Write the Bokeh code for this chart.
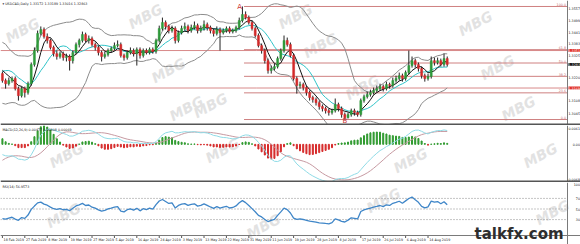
import numpy as np
import pandas as pd
from bokeh.plotting import figure
from bokeh.models import Range1d, Label, Span
from bokeh.layouts import column
from bokeh.embed import file_html
from bokeh.resources import INLINE

# ---------------- data (USDCAD daily) ----------------
opens = [1.3239,1.3205,1.3190,1.3205,1.3215,1.3166,1.3132,1.3166,1.3147,1.3190,
         1.3283,1.3351,1.3434,1.3453,1.3419,1.3400,1.3366,1.3336,1.3322,1.3336,
         1.3317,1.3322,1.3302,1.3341,1.3380,1.3400,1.3429,1.3400,1.3409,1.3380,
         1.3366,1.3341,1.3322,1.3332,1.3351,1.3361,1.3375,1.3380,1.3327,1.3317,
         1.3341,1.3351,1.3336,1.3356,1.3327,1.3351,1.3341,1.3356,1.3346,1.3400,
         1.3458,1.3487,1.3468,1.3448,1.3458,1.3400,1.3438,1.3458,1.3468,1.3448,
         1.3463,1.3472,1.3448,1.3458,1.3477,1.3463,1.3448,1.3434,1.3453,1.3438,
         1.3448,1.3458,1.3443,1.3448,1.3463,1.3497,1.3526,1.3511,1.3487,1.3458,
         1.3424,1.3375,1.3351,1.3302,1.3254,1.3264,1.3273,1.3312,1.3351,1.3400,
         1.3380,1.3327,1.3215,1.3181,1.3186,1.3171,1.3147,1.3123,1.3113,1.3098,
         1.3079,1.3069,1.3059,1.3050,1.3059,1.3089,1.3069,1.3040,1.3025,1.3040,
         1.3059,1.3050,1.3040,1.3108,1.3127,1.3137,1.3147,1.3157,1.3166,1.3176,
         1.3166,1.3186,1.3181,1.3205,1.3215,1.3229,1.3215,1.3244,1.3278,1.3302,
         1.3283,1.3264,1.3229,1.3215,1.3225,1.3302,1.3293,1.3302,1.3283,1.3312]
closes = [1.3205,1.3190,1.3205,1.3215,1.3166,1.3132,1.3166,1.3147,1.3190,1.3283,
          1.3351,1.3434,1.3453,1.3419,1.3400,1.3366,1.3336,1.3322,1.3336,1.3317,
          1.3322,1.3302,1.3341,1.3380,1.3400,1.3429,1.3400,1.3409,1.3380,1.3366,
          1.3341,1.3322,1.3332,1.3351,1.3361,1.3375,1.3380,1.3327,1.3317,1.3341,
          1.3351,1.3336,1.3356,1.3327,1.3351,1.3341,1.3356,1.3346,1.3400,1.3458,
          1.3487,1.3468,1.3448,1.3458,1.3400,1.3438,1.3458,1.3468,1.3448,1.3463,
          1.3472,1.3448,1.3458,1.3477,1.3463,1.3448,1.3434,1.3453,1.3438,1.3448,
          1.3458,1.3443,1.3448,1.3463,1.3497,1.3526,1.3511,1.3487,1.3458,1.3424,
          1.3375,1.3351,1.3302,1.3254,1.3264,1.3273,1.3312,1.3351,1.3400,1.3380,
          1.3327,1.3215,1.3181,1.3186,1.3171,1.3147,1.3123,1.3113,1.3098,1.3079,
          1.3069,1.3059,1.3050,1.3059,1.3089,1.3069,1.3040,1.3025,1.3040,1.3059,
          1.3050,1.3040,1.3108,1.3127,1.3137,1.3147,1.3157,1.3166,1.3176,1.3166,
          1.3186,1.3181,1.3205,1.3215,1.3229,1.3215,1.3244,1.3278,1.3302,1.3283,
          1.3264,1.3229,1.3215,1.3225,1.3302,1.3293,1.3302,1.3283,1.3312,1.3283]
highs = [1.3249,1.3215,1.3220,1.3225,1.3225,1.3176,1.3176,1.3176,1.3200,1.3293,
         1.3366,1.3448,1.3468,1.3463,1.3434,1.3409,1.3375,1.3351,1.3346,1.3346,
         1.3336,1.3332,1.3351,1.3390,1.3409,1.3443,1.3438,1.3424,1.3419,1.3390,
         1.3375,1.3351,1.3346,1.3361,1.3370,1.3390,1.3400,1.3390,1.3336,1.3351,
         1.3366,1.3361,1.3366,1.3366,1.3361,1.3361,1.3366,1.3366,1.3409,1.3472,
         1.3511,1.3497,1.3477,1.3472,1.3468,1.3448,1.3472,1.3487,1.3477,1.3477,
         1.3492,1.3482,1.3472,1.3497,1.3487,1.3472,1.3458,1.3468,1.3463,1.3458,
         1.3468,1.3468,1.3458,1.3472,1.3511,1.3565,1.3541,1.3521,1.3497,1.3468,
         1.3434,1.3385,1.3361,1.3312,1.3278,1.3288,1.3322,1.3361,1.3424,1.3414,
         1.3390,1.3336,1.3225,1.3200,1.3195,1.3181,1.3157,1.3132,1.3123,1.3108,
         1.3089,1.3079,1.3069,1.3069,1.3118,1.3098,1.3079,1.3050,1.3050,1.3069,
         1.3069,1.3059,1.3118,1.3137,1.3152,1.3161,1.3171,1.3181,1.3190,1.3186,
         1.3200,1.3195,1.3220,1.3229,1.3244,1.3239,1.3254,1.3351,1.3322,1.3312,
         1.3293,1.3273,1.3239,1.3239,1.3322,1.3317,1.3317,1.3312,1.3336,1.3322]
lows = [1.3195,1.3166,1.3181,1.3195,1.3157,1.3108,1.3123,1.3123,1.3137,1.3181,
        1.3273,1.3341,1.3424,1.3409,1.3385,1.3356,1.3322,1.3307,1.3312,1.3302,
        1.3298,1.3254,1.3288,1.3332,1.3366,1.3390,1.3390,1.3385,1.3370,1.3351,
        1.3327,1.3298,1.3312,1.3322,1.3341,1.3351,1.3366,1.3317,1.3302,1.3307,
        1.3332,1.3322,1.3278,1.3312,1.3317,1.3332,1.3332,1.3336,1.3336,1.3390,
        1.3448,1.3453,1.3434,1.3438,1.3385,1.3390,1.3429,1.3448,1.3434,1.3438,
        1.3453,1.3434,1.3438,1.3448,1.3448,1.3434,1.3419,1.3424,1.3351,1.3429,
        1.3438,1.3434,1.3434,1.3438,1.3453,1.3487,1.3502,1.3477,1.3448,1.3414,
        1.3366,1.3336,1.3288,1.3239,1.3239,1.3254,1.3264,1.3302,1.3341,1.3370,
        1.3317,1.3205,1.3142,1.3166,1.3157,1.3132,1.3108,1.3098,1.3084,1.3064,
        1.3055,1.3045,1.3035,1.3040,1.3050,1.3055,1.3025,1.3016,1.3021,1.3030,
        1.3035,1.3030,1.3030,1.3098,1.3118,1.3127,1.3137,1.3147,1.3157,1.3152,
        1.3157,1.3166,1.3171,1.3195,1.3205,1.3200,1.3205,1.3234,1.3268,1.3268,
        1.3249,1.3215,1.3200,1.3205,1.3215,1.3278,1.3283,1.3273,1.3273,1.3273]
# closes before the visible window (estimated), only used to warm up indicators
prior_closes = [1.3485,1.3400,1.3390,1.3330,1.3260,1.3240,1.3280,1.3270,1.3250,1.3300,
                1.3320,1.3280,1.3320,1.3370,1.3330,1.3320,1.3280,1.3210,1.3140,1.3130,
                1.3120,1.3130,1.3160,1.3200,1.3280,1.3300,1.3290,1.3265,1.3270,1.3290,1.3245]

date_labels = ["18 Feb 2019", "27 Feb 2019", "8 Mar 2019", "19 Mar 2019", "27 Mar 2019",
               "5 Apr 2019", "16 Apr 2019", "24 Apr 2019", "3 May 2019", "13 May 2019",
               "22 May 2019", "31 May 2019", "11 Jun 2019", "19 Jun 2019", "28 Jun 2019",
               "8 Jul 2019", "17 Jul 2019", "26 Jul 2019", "6 Aug 2019", "14 Aug 2019"]
date_label_step = 7

price_ticks = [1.3557, 1.3499, 1.3441, 1.3383, 1.3325, 1.3220, 1.3108, 1.3045]
fib_levels = [0.0, 23.6, 38.2, 50.0, 61.8, 100.0]
hline_levels = [1.3351, 1.3169]
macd_tick_labels = ["0.0061", "0.00", "-0.0068"]
rsi_ticks = [100, 70, 50, 30]
rsi_levels = [70, 50, 30]

title_main = "\u25be USDCAD,Daily  1.33172 1.33189 1.33016 1.32863"
title_macd = "MACD(12,26,9) 0.00477 0.00408 0.00069"
title_rsi = "RSI(14) 56.9573"

# watermark positions (pixels in the picture)
wm_x = [22, 145, 168, 186, 295, 320, 362, 210, 475, 497, 518, 66, 222, 410, 540, 63, 263, 383, 552]
wm_y = [30, 16, 70, 108, 16, 45, 87, 105, 23, 67, 108, 155, 150, 160, 155, 215, 226, 200, 212]

# ---------------- indicators ----------------
n = len(closes)
x = np.arange(n)
allc = pd.Series(prior_closes + closes)
ma_fast = allc.rolling(5).mean().iloc[-n:].values
ma_slow = allc.rolling(10).mean().iloc[-n:].values
bb_mid = allc.rolling(20).mean()
bb_sd = allc.rolling(20).std(ddof=0)
bb_up = (bb_mid + 2 * bb_sd).iloc[-n:].values
bb_dn = (bb_mid - 2 * bb_sd).iloc[-n:].values
ema12 = allc.ewm(span=12, adjust=False).mean()
ema26 = allc.ewm(span=26, adjust=False).mean()
macd_s = ema12 - ema26
sig_s = macd_s.rolling(9).mean()
macd = macd_s.iloc[-n:].values
sig = sig_s.iloc[-n:].values
hist = macd - sig
d = allc.diff()
gain = d.clip(lower=0).ewm(alpha=1 / 14, adjust=False).mean()
loss = (-d.clip(upper=0)).ewm(alpha=1 / 14, adjust=False).mean()
rsi = (100 - 100 / (1 + gain / loss)).iloc[-n:].values

# ---------------- layout constants ----------------
PX_PER_BAR = 3.2
X0 = -0.6
XA = X0 + 567 / PX_PER_BAR          # right edge of the chart area (price axis line)
XW = X0 + 580 / PX_PER_BAR          # right edge of the picture
P_LO, P_HI = 1.2987, 1.3594
M_LO = float(min(macd.min(), sig.min(), hist.min())) * 1.02
M_HI = float(max(macd.max(), sig.max(), hist.max())) * 1.02
R_PX = 100 / 53                      # RSI units per pixel
R_LO = -9 * R_PX                     # room below the RSI window for the dates
FONT = "DejaVu Sans"
SMALL = "3.3px"
GREEN, RED = "#2e9a3a", "#d42a2a"

def base_fig(h, yr):
    p = figure(width=580, height=h, x_range=Range1d(X0, XW), y_range=yr,
               output_backend="svg", toolbar_location=None,
               x_axis_location=None, y_axis_location=None,
               min_border_left=0, min_border_right=0, min_border_top=0,
               min_border_bottom=0)
    p.grid.visible = False
    p.outline_line_color = None
    p.background_fill_color = "white"
    p.border_fill_color = "white"
    p.add_layout(Span(location=XA, dimension="height", line_color="#7a7a7a", line_width=1))
    return p

def px_to_x(px):
    return X0 + px / PX_PER_BAR

def small_label(p, xv, yv, text, color="#222", align="left", base="middle", size=SMALL, **kw):
    p.add_layout(Label(x=xv, y=yv, text=text, text_color=color, text_align=align,
                       text_baseline=base, text_font=FONT, text_font_size=size, **kw))

x_lab = px_to_x(579.5)

# ---------------- main price panel ----------------
p1 = base_fig(125, Range1d(P_LO, P_HI))
ppx1 = (P_HI - P_LO) / 125
panels = [(p1, 0, 125, P_LO, P_HI)]

for lvl in hline_levels:
    p1.segment(x0=X0, y0=lvl, x1=XA, y1=lvl, line_color="#d88a8a", line_width=1)

o = np.array(opens); c = np.array(closes); hi = np.array(highs); lo = np.array(lows)
ia = int(np.argmax(hi))
ib = ia + int(np.argmin(lo[ia:]))
H, L = hi[ia], lo[ib]
for f in fib_levels:
    lv = L + (H - L) * f / 100
    p1.segment(x0=ia + 0.5, y0=lv, x1=XA, y1=lv, line_color="#cf8080", line_width=1)
    small_label(p1, px_to_x(565.5), lv + 0.5 * ppx1, f"{f:.1f}", color="#c06a6a",
                align="right", base="bottom")

p1.line(x, bb_up, line_color="#8c8c8c", line_width=1)
p1.line(x, bb_dn, line_color="#8c8c8c", line_width=1)
p1.line(x, ma_slow, line_color="#2fc4c8", line_width=1)
p1.line(x, ma_fast, line_color="#111111", line_width=1)

p1.segment(x0=x, y0=lo, x1=x, y1=hi, line_color="#222222", line_width=1)
up = c >= o
dn = ~up
p1.vbar(x=x[up], width=0.62, top=c[up], bottom=o[up], fill_color=GREEN, line_color=GREEN, line_width=0.5)
p1.vbar(x=x[dn], width=0.62, top=o[dn], bottom=c[dn], fill_color=RED, line_color=RED, line_width=0.5)

small_label(p1, ia - 0.9, H - 0.0002, "A", color="#cc3333", align="center", size="7px")
small_label(p1, ib, L - 0.0009, "B", color="#cc3333", align="center", size="7px")

small_label(p1, px_to_x(2), P_HI - 3 * ppx1, title_main)

for t in price_ticks:
    small_label(p1, x_lab, t, f"{t:.4f}", align="right")
for lvl in hline_levels:
    small_label(p1, x_lab, lvl, f"{lvl:.4f}", color="white", align="right",
                background_fill_color="#e0302a")
small_label(p1, x_lab, closes[-1], f"{closes[-1]:.4f}", color="white", align="right",
            background_fill_color="#111111")
p1.add_layout(Span(location=P_LO + ppx1, dimension="width", line_color="#555555", line_width=2))

# ---------------- MACD panel ----------------
p2 = base_fig(57, Range1d(M_LO, M_HI))
ppx2 = (M_HI - M_LO) / 57
panels.append((p2, 125, 182, M_LO, M_HI))
hp = hist >= 0
p2.vbar(x=x[hp], width=0.32, top=hist[hp], bottom=0, fill_color="#2f9a2f", line_color="#2f9a2f")
p2.vbar(x=x[~hp], width=0.32, top=0, bottom=hist[~hp], fill_color="#d62a2a", line_color="#d62a2a")
p2.line(x, sig, line_color="#c79aa2", line_width=1)
p2.line(x, macd, line_color="#8fdbe6", line_width=1)
small_label(p2, px_to_x(2), M_HI - 4 * ppx2, title_macd)
for lab, yv, base in zip(macd_tick_labels, [M_HI - ppx2, 0.0, M_LO + 2 * ppx2],
                         ["top", "middle", "bottom"]):
    small_label(p2, x_lab, yv, lab, align="right", base=base)
p2.add_layout(Span(location=M_LO + ppx2, dimension="width", line_color="#555555", line_width=2))

# ---------------- RSI panel ----------------
p3 = base_fig(62, Range1d(R_LO, 100))
panels.append((p3, 182, 244, R_LO, 100))
for lv in rsi_levels:
    p3.segment(x0=X0, y0=lv, x1=XA, y1=lv, line_color="#8a8a8a", line_width=1, line_dash="1 2")
p3.line(x, rsi, line_color="#3f86c8", line_width=1.3)
small_label(p3, px_to_x(2), 100 - 4 * R_PX, title_rsi)
for t in rsi_ticks:
    small_label(p3, x_lab, t - (2 * R_PX if t == 100 else 0), str(t), align="right")
p3.add_layout(Span(location=0, dimension="width", line_color="#7a7a7a", line_width=1))

for k, lab in enumerate(date_labels):
    xi = k * date_label_step
    p3.segment(x0=xi, y0=0, x1=xi, y1=-2.5 * R_PX, line_color="#555", line_width=1)
    small_label(p3, xi + 0.35, -4.5 * R_PX, lab)

small_label(p3, px_to_x(474), 2 * R_PX, "talkfx.com", color="#2e2e2e",
            base="middle", size="15px", text_font_style="bold")

# ---------------- watermarks ----------------
for wx, wy in zip(wm_x, wm_y):
    for (pp, ytop, ybot, vlo, vhi) in panels:
        if ytop <= wy < ybot:
            yv = vhi - (vhi - vlo) * (wy - ytop) / (ybot - ytop)
            pp.add_layout(Label(x=px_to_x(wx), y=yv, text="MBG", text_align="center",
                                text_baseline="middle", angle=0.5, text_font=FONT,
                                text_font_size="14px", text_font_style="bold italic",
                                text_color="#e2e2e2", level="underlay"))
            break

layout = column(p1, p2, p3, spacing=0)
open("out.html", "w").write(file_html(layout, INLINE))
